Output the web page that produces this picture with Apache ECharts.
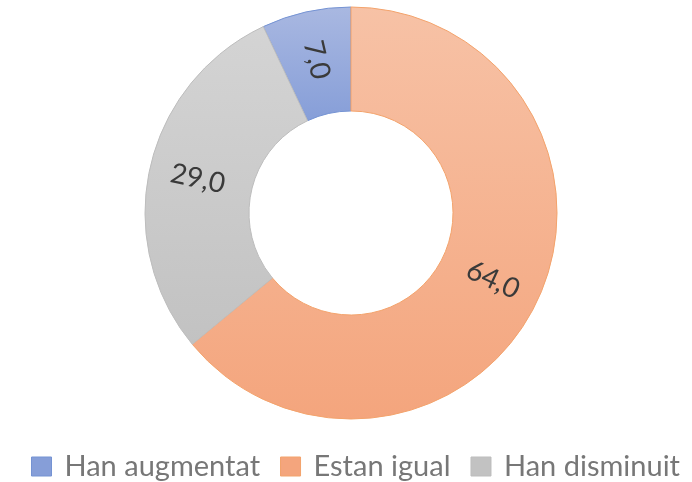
<!DOCTYPE html>
<html><head><meta charset="utf-8">
<script src="https://cdn.jsdelivr.net/npm/echarts@6/dist/echarts.min.js"></script>
<style>html,body{margin:0;padding:0;background:#fff}#c{width:692px;height:482px}</style>
</head><body><div id="c"></div>
<script>
const categories = ['Han augmentat', 'Estan igual', 'Han disminuit'];
const values = [7.0, 64.0, 29.0];
const labelRotations = [-77, -25, -12];
const fills = [['#a9b8e1', '#869ed8'], ['#f7c2a6', '#f4a57d'], ['#d4d4d4', '#c2c2c2']];
const borders = ['#7593d3', '#f3a36c', '#bdbdbd'];

function grad(c) {
  return new echarts.graphic.LinearGradient(0, 0, 0, 1, [
    { offset: 0, color: c[0] }, { offset: 1, color: c[1] }
  ]);
}
const total = values.reduce((a, b) => a + b, 0);
const chart = echarts.init(document.getElementById('c'), null, { renderer: 'canvas' });
chart.setOption({
  animation: false,
  legend: {
    top: 452,
    left: 31,
    padding: 0,
    itemWidth: 20,
    itemHeight: 19,
    itemGap: 20,
    icon: 'rect',
    textStyle: { fontFamily: 'Lato', fontSize: 29, color: '#777777', padding: [0, 0, 0, 8] },
    data: categories.map((n, i) => ({ name: n, itemStyle: { color: fills[i][1], borderColor: borders[i], borderWidth: 1 } }))
  },
  series: [{
    type: 'pie',
    center: [351, 213],
    radius: [102, 206],
    startAngle: 90 + values[0] / total * 360,
    clockwise: true,
    avoidLabelOverlap: false,
    label: {
      show: true,
      position: 'inside',
      fontFamily: 'Lato',
      fontSize: 28,
      color: '#3a3a3a',
      formatter: p => p.value.toFixed(1).replace('.', ',')
    },
    labelLine: { show: false },
    emphasis: { disabled: true },
    data: categories.map((n, i) => ({
      name: n,
      value: values[i],
      label: { rotate: labelRotations[i] },
      itemStyle: { color: grad(fills[i]), borderColor: borders[i], borderWidth: 1 }
    }))
  }]
});
</script></body></html>
